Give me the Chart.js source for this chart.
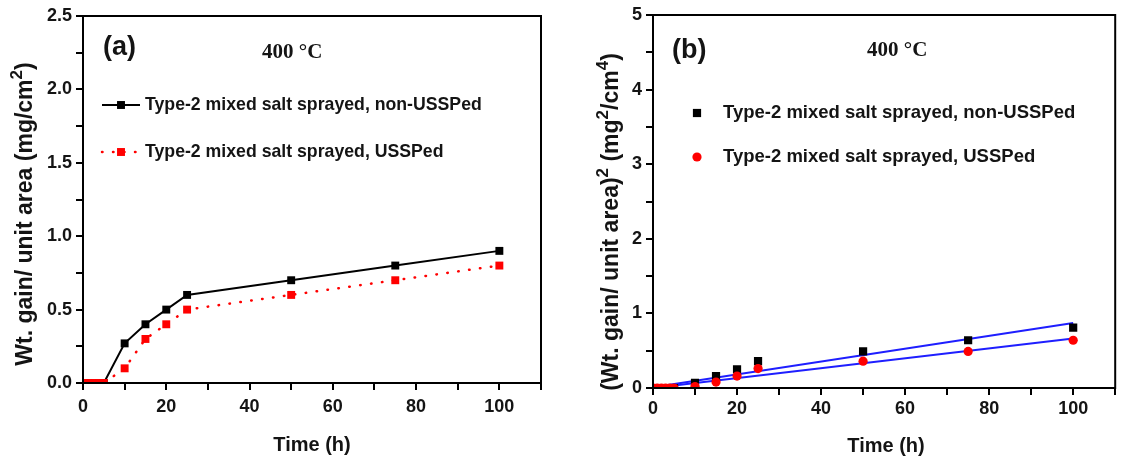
<!DOCTYPE html>
<html><head><meta charset="utf-8">
<script src="https://cdn.jsdelivr.net/npm/chart.js@4.4.1/dist/chart.umd.min.js"></script>
<style>
html,body{margin:0;padding:0;background:#fff;}
#wrap{position:relative;width:1121px;height:461px;overflow:hidden;background:#fff;}
#ca{position:absolute;left:0;top:0;}
#cb{position:absolute;left:560px;top:0;}
</style></head><body>
<div id="wrap"><canvas id="ca" width="560" height="461"></canvas><canvas id="cb" width="561" height="461"></canvas></div>
<script>
// ---------- data ----------
const timeH         = [0, 1, 2, 3, 4, 5, 10, 15, 20, 25, 50, 75, 100];
const gainNonUSSP   = [0, 0, 0, 0, 0, 0, 0.27, 0.40, 0.50, 0.60, 0.70, 0.80, 0.90];
const gainUSSP      = [0, 0, 0, 0, 0, 0, 0.10, 0.30, 0.40, 0.50, 0.60, 0.70, 0.80];
const sqGainNonUSSP = [0, 0, 0, 0, 0, 0, 0.07, 0.16, 0.25, 0.36, 0.49, 0.64, 0.81];
const sqGainUSSP    = [0, 0, 0, 0, 0, 0, 0.02, 0.08, 0.16, 0.26, 0.36, 0.49, 0.64];
const fitTime       = [0, 100];
const fitNonUSSP    = [0.01, 0.87];
const fitUSSP       = [0.00, 0.665];
const seriesNames   = ['Type-2 mixed salt sprayed, non-USSPed', 'Type-2 mixed salt sprayed, USSPed'];
const xTickLabels   = ['0', '20', '40', '60', '80', '100'];
const yTickLabelsA  = ['0.0', '0.5', '1.0', '1.5', '2.0', '2.5'];
const yTickLabelsB  = ['0', '1', '2', '3', '4', '5'];
const panelA = '(a)', panelB = '(b)', tempText = '400 \u00B0C';
const xTitle = 'Time (h)';

const zip = (xs, ys) => xs.map((x, i) => ({x: x, y: ys[i]}));
const SANS = '"Liberation Sans", Arial, sans-serif';
const SERIF = '"Liberation Serif", "Times New Roman", serif';
const TXT = '#141414';

function drawRich(ctx, parts, cx, cy, size, rotate) {
  ctx.save();
  ctx.translate(cx, cy);
  if (rotate) ctx.rotate(-Math.PI / 2);
  const fMain = 'bold ' + size + 'px ' + SANS;
  const fSup = 'bold ' + Math.round(size * 0.74) + 'px ' + SANS;
  let total = 0;
  parts.forEach(p => { ctx.font = p.sup ? fSup : fMain; p.w = ctx.measureText(p.t).width; total += p.w; });
  let x = -total / 2;
  ctx.textAlign = 'left'; ctx.textBaseline = 'alphabetic'; ctx.fillStyle = TXT;
  parts.forEach(p => { ctx.font = p.sup ? fSup : fMain; ctx.fillText(p.t, x, p.sup ? -size * 0.45 : 0); x += p.w; });
  ctx.restore();
}

function marker(ctx, style, color, x, y, r) {
  ctx.fillStyle = color;
  if (style === 'rect') { const s = r * Math.SQRT2; ctx.fillRect(x - s / 2, y - s / 2, s, s); }
  else { ctx.beginPath(); ctx.arc(x, y, r, 0, Math.PI * 2); ctx.fill(); }
}

const decoPlugin = {
  id: 'deco',
  afterDraw(chart, args, o) {
    const ctx = chart.ctx, a = chart.chartArea;
    ctx.save();
    // frame
    ctx.strokeStyle = '#000'; ctx.lineWidth = 2;
    ctx.strokeRect(a.left, a.top, a.right - a.left, a.bottom - a.top);
    // panel label
    ctx.fillStyle = TXT; ctx.textBaseline = 'middle'; ctx.textAlign = 'left';
    ctx.font = 'bold 27px ' + SANS;
    ctx.fillText(o.panel, o.panelX, o.panelY);
    ctx.font = 'bold 21px ' + SERIF;
    ctx.fillText(tempText, o.tempX, o.tempY);
    // legend
    const ds = chart.data.datasets;
    o.legend.forEach((it, i) => {
      const d = ds[it.ds];
      if (it.line) {
        ctx.save();
        ctx.strokeStyle = d.borderColor; ctx.lineWidth = d.borderWidth;
        ctx.lineCap = d.borderCapStyle || 'butt';
        ctx.setLineDash(d.borderDash || []);
        ctx.beginPath(); ctx.moveTo(o.lx0, it.y); ctx.lineTo(o.lx1, it.y); ctx.stroke();
        ctx.restore();
      }
      marker(ctx, d.pointStyle, d.pointBackgroundColor || d.backgroundColor, o.mx, it.y, d.pointRadius);
      ctx.fillStyle = TXT; ctx.textBaseline = 'middle'; ctx.textAlign = 'left';
      ctx.font = 'bold ' + o.legendSize + 'px ' + SANS;
      ctx.fillText(d.label, o.tx, it.y);
    });
    // axis titles
    drawRich(ctx, o.yTitle, o.yTitleX, o.yTitleY, o.yTitleSize, true);
    ctx.fillStyle = TXT; ctx.textAlign = 'center'; ctx.textBaseline = 'middle';
    ctx.font = 'bold 20px ' + SANS;
    ctx.fillText(xTitle, o.xTitleX, o.xTitleY);
    ctx.restore();
  }
};

function axisCommon() {
  return {
    grid: {display: true, drawOnChartArea: false, drawTicks: true, tickLength: 7, color: '#000', lineWidth: 2},
    border: {display: true, color: '#000', width: 2}
  };
}

function makeChart(id, cfg) {
  const xAx = Object.assign(axisCommon(), {
    type: 'linear', min: 0, max: 110,
    afterFit: s => { s.height = cfg.xh; },
    ticks: {stepSize: 10, autoSkip: false, maxRotation: 0, padding: cfg.xpad, color: TXT,
      font: {family: SANS, size: 18, weight: 'bold'},
      callback: v => { const s = String(v); return xTickLabels.includes(s) ? s : ''; }}
  });
  const yAx = Object.assign(axisCommon(), {
    type: 'linear', min: 0, max: cfg.ymax,
    afterFit: s => { s.width = cfg.yw; },
    ticks: {stepSize: cfg.ystep, autoSkip: false, padding: 4, color: TXT,
      font: {family: SANS, size: 18, weight: 'bold'},
      callback: v => { const s = cfg.yfmt(v); return cfg.ylabels.includes(s) ? s : ''; }}
  });
  return new Chart(document.getElementById(id), {
    type: 'scatter',
    data: {datasets: cfg.datasets},
    options: {
      responsive: false, animation: false, devicePixelRatio: 1, events: [],
      layout: {padding: cfg.padding},
      scales: {x: xAx, y: yAx},
      plugins: {legend: {display: false}, tooltip: {enabled: false}, title: {display: false}, deco: cfg.deco}
    },
    plugins: [decoPlugin]
  });
}

// ---------- chart (a) ----------
makeChart('ca', {
  xh: 78, yw: 83, xpad: 6, ymax: 2.5, ystep: 0.25,
  yfmt: v => v.toFixed(1), ylabels: yTickLabelsA,
  padding: {top: 16, right: 19, left: 0, bottom: 0},
  datasets: [
    {label: seriesNames[0], data: zip(timeH, gainNonUSSP), showLine: true, order: 1,
     borderColor: '#000', backgroundColor: '#000', borderWidth: 2,
     pointStyle: 'rect', pointRadius: 5.6, pointBorderWidth: 0, pointBackgroundColor: '#000'},
    {label: seriesNames[1], data: zip(timeH, gainUSSP), showLine: true, order: 0,
     borderColor: '#ff0000', backgroundColor: '#ff0000', borderWidth: 2.5, borderDash: [0.5, 10.5], borderCapStyle: 'round',
     pointStyle: 'rect', pointRadius: 5.6, pointBorderWidth: 0, pointBackgroundColor: '#ff0000'}
  ],
  deco: {
    panel: panelA, panelX: 103, panelY: 48, tempX: 262, tempY: 53,
    lx0: 102, lx1: 140, mx: 121, tx: 145, legendSize: 17.7,
    legend: [{ds: 0, y: 105, line: true}, {ds: 1, y: 152, line: true}],
    yTitle: [{t: 'Wt. gain/ unit area (mg/cm'}, {t: '2', sup: true}, {t: ')'}],
    yTitleX: 32, yTitleY: 214, yTitleSize: 23,
    xTitleX: 312, xTitleY: 445
  }
});

// ---------- chart (b) ----------
makeChart('cb', {
  xh: 73, yw: 93, xpad: 3, ymax: 5, ystep: 0.5,
  yfmt: v => String(v), ylabels: yTickLabelsB,
  padding: {top: 15, right: 2, left: 0, bottom: 0},
  datasets: [
    {label: seriesNames[0], data: zip(timeH, sqGainNonUSSP), showLine: false, order: 1,
     backgroundColor: '#000', pointStyle: 'rect', pointRadius: 5.8, pointBorderWidth: 0, pointBackgroundColor: '#000'},
    {label: seriesNames[1], data: zip(timeH, sqGainUSSP), showLine: false, order: 0,
     backgroundColor: '#ff0000', pointStyle: 'circle', pointRadius: 4.6, pointBorderWidth: 0, pointBackgroundColor: '#ff0000'},
    {label: 'fit non-USSPed', data: zip(fitTime, fitNonUSSP), showLine: true, order: 2,
     borderColor: '#1e1eff', borderWidth: 2, pointRadius: 0},
    {label: 'fit USSPed', data: zip(fitTime, fitUSSP), showLine: true, order: 2,
     borderColor: '#1e1eff', borderWidth: 2, pointRadius: 0}
  ],
  deco: {
    panel: panelB, panelX: 112, panelY: 51, tempX: 307, tempY: 51,
    lx0: 0, lx1: 0, mx: 137, tx: 163, legendSize: 18.5,
    legend: [{ds: 0, y: 113, line: false}, {ds: 1, y: 157, line: false}],
    yTitle: [{t: '(Wt. gain/ unit area)'}, {t: '2', sup: true}, {t: ' (mg'}, {t: '2', sup: true}, {t: '/cm'}, {t: '4', sup: true}, {t: ')'}],
    yTitleX: 58, yTitleY: 222, yTitleSize: 23,
    xTitleX: 326, xTitleY: 446
  }
});
</script>
</body></html>
